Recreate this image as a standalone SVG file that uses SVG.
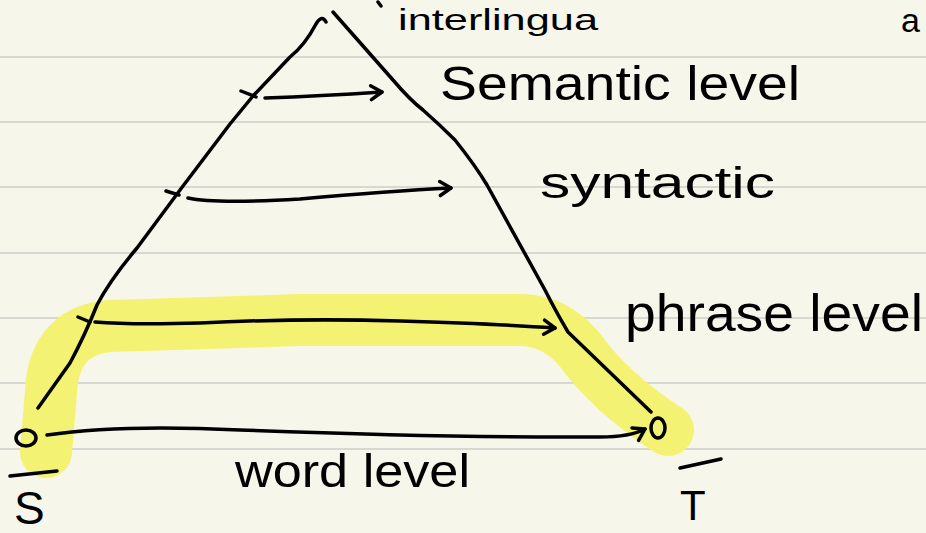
<svg xmlns="http://www.w3.org/2000/svg" width="926" height="533" viewBox="0 0 926 533">
<style>
.rule{stroke:#d8d8d2;stroke-width:2}
.ink{fill:none;stroke:#000;stroke-width:3.5;stroke-linecap:round;stroke-linejoin:round}
.hl{fill:none;stroke:#f4f272;stroke-width:52;stroke-linecap:round;stroke-linejoin:round}
.lbl{font-family:"Liberation Sans",Arial,sans-serif;fill:#000;font-weight:normal}
</style>
<defs>
<marker id="ah" markerUnits="userSpaceOnUse" markerWidth="20" markerHeight="20" refX="0" refY="0" viewBox="-14 -10 16 20" orient="auto">
<path d="M -11 -7 L 0 0 L -11 7" fill="none" stroke="#000" stroke-width="3.5" stroke-linecap="round" stroke-linejoin="round"/>
</marker>
</defs>
<rect width="926" height="533" fill="#f7f6ea"/>
<g id="ruling">
<line class="rule" x1="0" y1="57" x2="926" y2="57"/>
<line class="rule" x1="0" y1="122" x2="926" y2="122"/>
<line class="rule" x1="0" y1="187" x2="926" y2="187"/>
<line class="rule" x1="0" y1="253" x2="926" y2="253"/>
<line class="rule" x1="0" y1="318" x2="926" y2="318"/>
<line class="rule" x1="0" y1="383" x2="926" y2="383"/>
<line class="rule" x1="0" y1="449" x2="926" y2="449"/>
</g>
<g id="highlight">
<path class="hl" d="M 46 452 L 52 380 Q 60 330 110 326 L 300 320 L 520 320 Q 555 320 580 350 Q 610 392 668 430"/>
</g>
<g id="connectors">
<path class="ink" d="M 326 22 Q 322 14 316 24 Q 305 45 290 57 Q 270 78 253 96 L 230 124 L 183 186 L 137 248 Q 110 280 97 305 Q 85 335 70 363 L 38 408"/>
<path class="ink" d="M 333 12 L 393 80 Q 410 100 423 110 Q 440 125 455 140 Q 475 165 487 185 L 545 290 Q 555 310 568 332 L 651 412"/>
<path class="ink" d="M 241 91 L 256 97"/>
<path class="ink" d="M 166 191 L 179 195"/>
<path class="ink" d="M 78 317 L 90 322"/>
<path class="ink" marker-end="url(#ah)" d="M 265 98 Q 320 96 382 92"/>
<path class="ink" marker-end="url(#ah)" d="M 188 198 Q 215 204 300 199 Q 390 191 451 188"/>
<path class="ink" marker-end="url(#ah)" d="M 95 322 Q 130 325 200 323 Q 300 318 400 321 Q 500 324 555 328"/>
<path class="ink" marker-end="url(#ah)" d="M 47 435 Q 120 424 240 430 Q 450 438 600 437 Q 630 437 645 429"/>
</g>
<g id="node-interlingua">
<path class="ink" d="M 378 2 L 381 6"/>
<text class="lbl" x="398" y="30" font-size="30" textLength="200" lengthAdjust="spacingAndGlyphs">interlingua</text>
</g>
<g id="node-semantic">
<text class="lbl" x="440" y="100" font-size="48" textLength="360" lengthAdjust="spacingAndGlyphs">Semantic level</text>
</g>
<g id="node-syntactic">
<text class="lbl" x="540" y="198" font-size="44" textLength="235" lengthAdjust="spacingAndGlyphs">syntactic</text>
</g>
<g id="node-phrase">
<text class="lbl" x="625" y="331" font-size="52" textLength="298" lengthAdjust="spacingAndGlyphs">phrase level</text>
</g>
<g id="node-word">
<text class="lbl" x="235" y="487" font-size="46" textLength="235" lengthAdjust="spacingAndGlyphs">word level</text>
</g>
<g id="node-S">
<ellipse class="ink" cx="26" cy="438" rx="10" ry="8"/>
<path class="ink" d="M 10 476 L 57 471"/>
<text class="lbl" x="14" y="524" font-size="46">S</text>
</g>
<g id="node-T">
<ellipse class="ink" cx="658" cy="428" rx="7" ry="10"/>
<path class="ink" d="M 680 468 L 721 459"/>
<text class="lbl" x="680" y="520" font-size="42">T</text>
</g>
<g id="node-edge">
<text class="lbl" x="901" y="32" font-size="34">a</text>
</g>
</svg>
